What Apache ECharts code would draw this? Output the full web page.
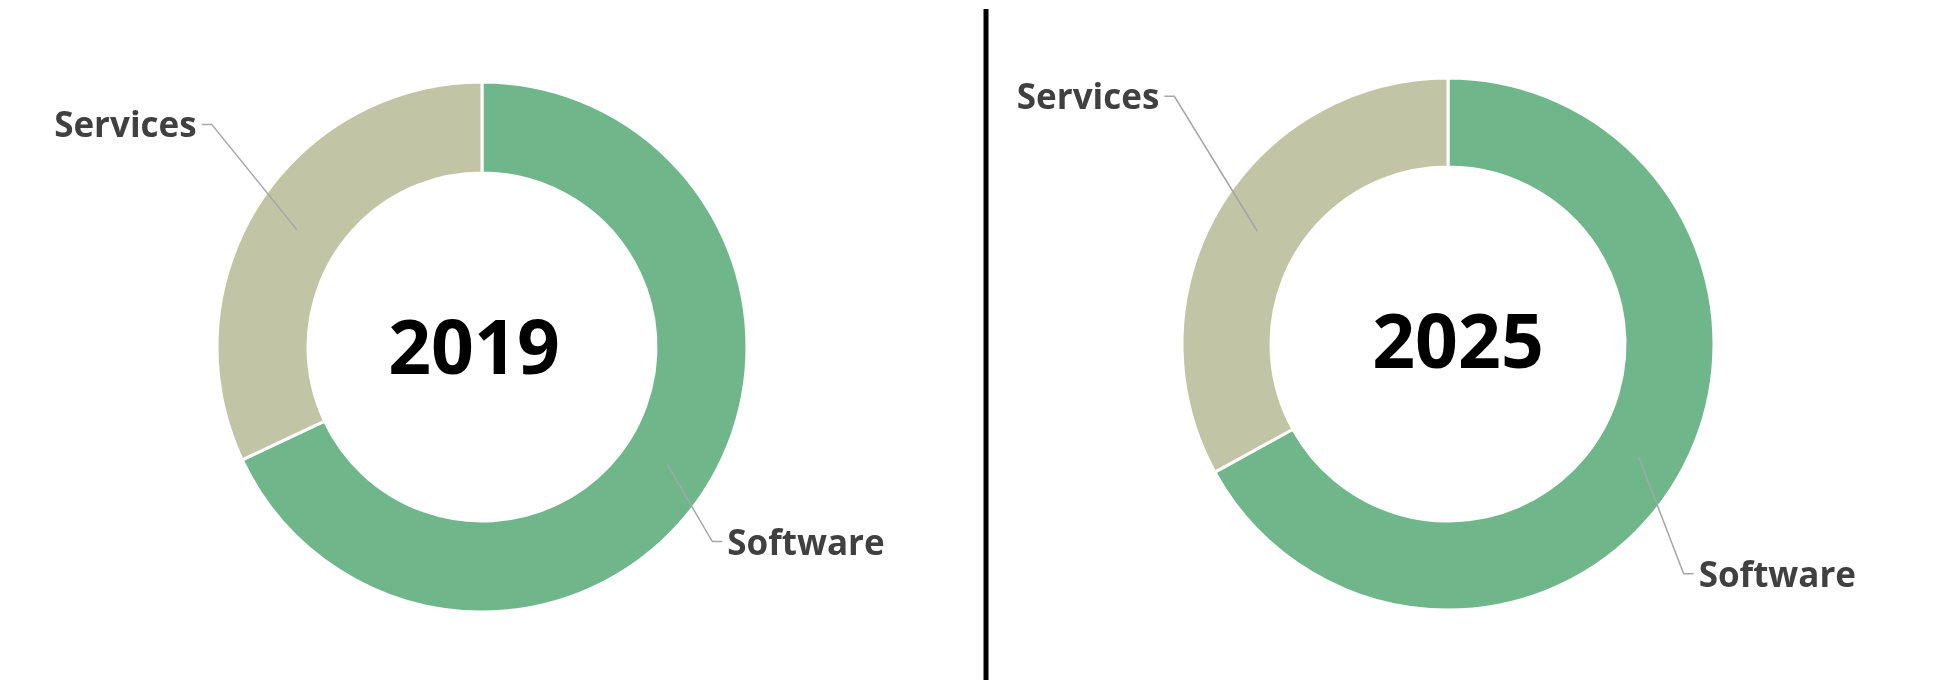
<!DOCTYPE html>
<html>
<head>
<meta charset="utf-8">
<script src="https://cdn.jsdelivr.net/npm/echarts@6/dist/echarts.min.js"></script>
<style>
  html, body { margin: 0; padding: 0; background: #ffffff; }
  #chart { width: 1952px; height: 686px; }
</style>
</head>
<body>
<div id="chart"></div>
<script>
// ---- data ----
const years = ['2019', '2025'];
const categories = ['Software', 'Services'];
const softwareShare = [68, 67];
const servicesShare = [32, 33];

// ---- layout / style ----
const colors = { Software: '#70B68B', Services: '#C2C4A6' };
const centers = [[482, 347], [1448, 344]];
const radii = [[174, 265], [177, 266]];
const yearOffsets = [[-8, 6], [10, 3]];
// leader-line elbow offsets from the line start (per year, per category)
const elbowOffsets = [
  { Software: [45, 77], Services: [-85, -105] },
  { Software: [45, 117], Services: [-83, -135] }
];
const elbowRun = 10, labelGap = 5, labelDrop = 3;
const fontFam = '"Open Sans", "Noto Sans", sans-serif';

const chart = echarts.init(document.getElementById('chart'));
const series = [];
const graphics = [];

years.forEach(function (yr, i) {
  const data = categories.map(function (c) {
    return { name: c, value: c === 'Software' ? softwareShare[i] : servicesShare[i],
             itemStyle: { color: colors[c] } };
  });
  series.push({
    type: 'pie',
    center: centers[i],
    radius: radii[i],
    startAngle: 90,
    clockwise: true,
    silent: true,
    label: { show: false },
    labelLine: { show: false },
    itemStyle: { borderColor: '#ffffff', borderWidth: 3 },
    data: data
  });
  const midR = (radii[i][0] + radii[i][1]) / 2;
  series.push({
    type: 'pie',
    center: centers[i],
    radius: [0, midR],
    startAngle: 90,
    clockwise: true,
    silent: true,
    z: 5,
    itemStyle: { color: 'rgba(0,0,0,0)', borderWidth: 0 },
    emphasis: { disabled: true },
    label: {
      show: true,
      position: 'outside',
      formatter: '{b}',
      fontFamily: fontFam,
      fontWeight: 'bold',
      fontSize: 35,
      color: '#404040'
    },
    labelLine: { show: true, length: 10, length2: 10, smooth: false,
                 lineStyle: { color: '#A6A6A6', width: 1.5, opacity: 1 } },
    labelLayout: function (p) {
      const name = categories[p.dataIndex];
      const off = elbowOffsets[i][name];
      const p0 = p.labelLinePoints[0];
      const ex = p0[0] + off[0], ey = p0[1] + off[1];
      const dir = off[0] > 0 ? 1 : -1;
      return {
        x: ex + dir * (elbowRun + labelGap),
        y: ey + labelDrop,
        align: dir > 0 ? 'left' : 'right',
        verticalAlign: 'middle',
        labelLinePoints: [p0, [ex, ey], [ex + dir * elbowRun, ey]]
      };
    },
    data: data.map(function (d) { return { name: d.name, value: d.value }; })
  });
  graphics.push({
    type: 'text',
    x: centers[i][0] + yearOffsets[i][0],
    y: centers[i][1] + yearOffsets[i][1],
    z: 10,
    style: {
      text: yr,
      fontFamily: fontFam,
      fontWeight: 'bold',
      fontSize: 75,
      fill: '#000000',
      align: 'center',
      verticalAlign: 'middle'
    }
  });
});

graphics.push({
  type: 'line',
  shape: { x1: 986, y1: 9, x2: 986, y2: 680 },
  style: { stroke: '#000000', lineWidth: 5 }
});

chart.setOption({
  backgroundColor: '#ffffff',
  animation: false,
  series: series,
  graphic: graphics
});
</script>
</body>
</html>
